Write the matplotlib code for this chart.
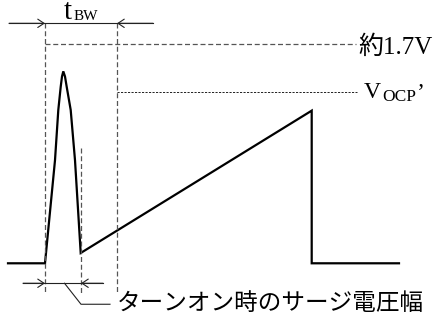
import matplotlib
matplotlib.use("Agg")
import matplotlib.pyplot as plt

# ---- data (time in arbitrary units, level in volts) ----
wave_t = [8, 45, 55, 58.3, 60.7, 62, 63.3, 65, 66.7, 70.7, 75, 80.7, 311.7, 311.7, 399]
wave_v = [0, 0, 0.80, 1.19, 1.37, 1.45, 1.49, 1.45, 1.37, 1.19, 0.80, 0.08, 1.185, 0, 0]

level_clamp = 1.7      # 約1.7V
level_vocp = 1.33      # VOCP'
t_on = 45              # turn-on
t_surge_end = 81       # end of surge
t_bw_end = 117         # end of blanking window

label_clamp = "約1.7V"
label_surge = "ターンオン時のサージ電圧幅"

# ---- figure ----
fig = plt.figure(figsize=(4.36, 3.21), dpi=100)
ax = fig.add_axes([0, 0, 1, 1])
ax.set_xlim(0, 436)
ax.set_ylim(-0.448, 2.044)
ax.axis("off")

fam = ["Liberation Serif", "Noto Sans CJK JP"]
gray = "#555555"
dark = "#222222"

# waveform
ax.plot(wave_t, wave_v, color="black", lw=1.6, solid_joinstyle="miter")

# dashed verticals
y_top_arrow = 1.863
y_dash_bot = -0.238
ax.plot([t_on, t_on], [y_top_arrow, y_dash_bot], color=gray, lw=0.9, dashes=(4, 2.2))
ax.plot([t_bw_end, t_bw_end], [y_top_arrow, y_dash_bot], color=gray, lw=0.9, dashes=(4, 2.2))
ax.plot([t_surge_end, t_surge_end], [0.895, y_dash_bot], color=gray, lw=0.9, dashes=(4, 2.2))

# 1.7V dashed horizontal
ax.plot([t_on, 356], [level_clamp, level_clamp], color=gray, lw=0.9, dashes=(4, 2.2))
# VOCP' dotted horizontal
ax.plot([t_bw_end, 357], [level_vocp, level_vocp], color=dark, lw=0.7, dashes=(2.2, 1.4))

# dimension arrows
def dim(y, x_left, x1, x2, x_right):
    ax.plot([x_left, x_right], [y, y], color=dark, lw=0.8)
    ap = dict(arrowstyle="->,head_length=0.45,head_width=0.3", color=dark, lw=0.8,
              shrinkA=0, shrinkB=0, mutation_scale=10)
    ax.annotate("", xy=(x1, y), xytext=(x_left, y), arrowprops=ap)
    ax.annotate("", xy=(x2, y), xytext=(x_right, y), arrowprops=ap)

dim(y_top_arrow, 9, t_on, t_bw_end, 153)
y_bot_arrow = -0.155
dim(y_bot_arrow, 23, t_on, t_surge_end, 103)

# leader line
y_lead = -0.318
ax.plot([64.5, 81, 110], [y_bot_arrow, y_lead, y_lead], color=dark, lw=0.8)

# labels
ax.text(63.5, 1.894, "t", family="Liberation Serif", fontsize=21, ha="left", va="baseline")
ax.text(73.5, 1.888, "BW", family="Liberation Serif", fontsize=11, ha="left", va="baseline")

ax.text(358, 1.625, label_clamp, family=fam, fontsize=18, ha="left", va="baseline")

ax.text(364, 1.283, "V", family="Liberation Serif", fontsize=17, ha="left", va="baseline")
ax.text(382.5, 1.26, "OCP", family="Liberation Serif", fontsize=12.5, ha="left", va="baseline")
ax.text(417, 1.283, "\u2019", family="Liberation Serif", fontsize=17, ha="left", va="baseline")

ax.text(117, y_lead, label_surge, family=fam, fontsize=17, ha="left", va="center")

fig.savefig("out.png", dpi=100)
